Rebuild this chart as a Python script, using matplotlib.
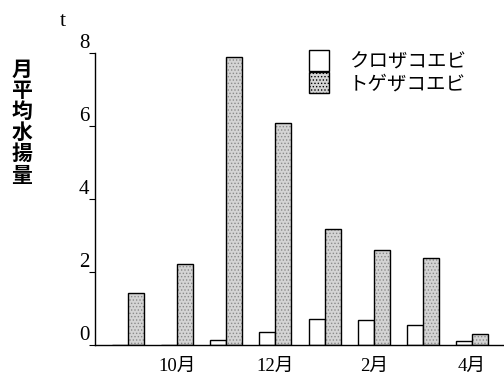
import matplotlib
matplotlib.use('Agg')
import matplotlib.pyplot as plt
import numpy as np

plt.rcParams['font.family'] = ['Liberation Serif', 'Noto Sans CJK JP']
plt.rcParams['hatch.linewidth'] = 0.6

months = ['9月', '10月', '11月', '12月', '1月', '2月', '3月', '4月']
kuro = [0, 0, 0.15, 0.36, 0.71, 0.68, 0.55, 0.10]   # クロザコエビ
toge = [1.42, 2.22, 7.89, 6.08, 3.18, 2.60, 2.38, 0.30]   # トゲザコエビ
yticks = [0, 2, 4, 6, 8]
ylabel = '月平均水揚量'

fig = plt.figure(figsize=(5.04, 3.78), dpi=100)
ax = fig.add_axes([95/504, 33/378, 409/504, 292/378])

x = np.arange(len(months))
w = 0.326
grey = '#d4d4d4'

ax.bar(x - w/2, kuro, w, color='white', edgecolor='black', linewidth=1.0)
# stipple fill then black outline
ax.bar(x + w/2, toge, w, color=grey, edgecolor='#8a8a8a', hatch='.....', linewidth=0)
ax.bar(x + w/2, toge, w, fill=False, edgecolor='black', linewidth=1.0)

ax.set_xlim(-0.67, 7.65)
ax.set_ylim(0, 8)
for s in ['top', 'right']:
    ax.spines[s].set_visible(False)
ax.spines['left'].set_linewidth(1.0)
ax.spines['bottom'].set_linewidth(1.0)

ax.set_xticks(x[1::2])
ax.set_xticklabels(months[1::2], fontsize=13.5)
ax.tick_params(axis='x', length=0, pad=9)
ax.set_yticks(yticks)
ax.set_yticklabels([str(v) for v in yticks], fontsize=15)
ax.tick_params(axis='y', length=4, width=0.8, pad=0)
plt.setp(ax.get_yticklabels(), va='bottom')

fig.text(63/504, 1 - 21/378, 't', fontsize=16, ha='center', va='center')
for i, ch in enumerate(ylabel):
    fig.text(22/504, 1 - (69 + i*21.2)/378, ch, fontsize=15, fontweight='bold',
             family='Noto Sans CJK JP', ha='center', va='center')

from matplotlib.patches import Patch
handles = [Patch(facecolor='white', edgecolor='black', linewidth=1.0),
           Patch(facecolor=grey, edgecolor='black', hatch='.....', linewidth=1.0)]
leg = ax.legend(handles, ['クロザコエビ', 'トゲザコエビ'], loc='upper left',
                bbox_to_anchor=(309/504, 1 - 50/378), bbox_transform=fig.transFigure,
                frameon=False, borderpad=0, borderaxespad=0, handlelength=1.05,
                handleheight=1.3, handletextpad=1.0, labelspacing=0.0,
                prop={'family': 'Noto Sans CJK JP', 'size': 14})

fig.savefig('out.png', dpi=100)
